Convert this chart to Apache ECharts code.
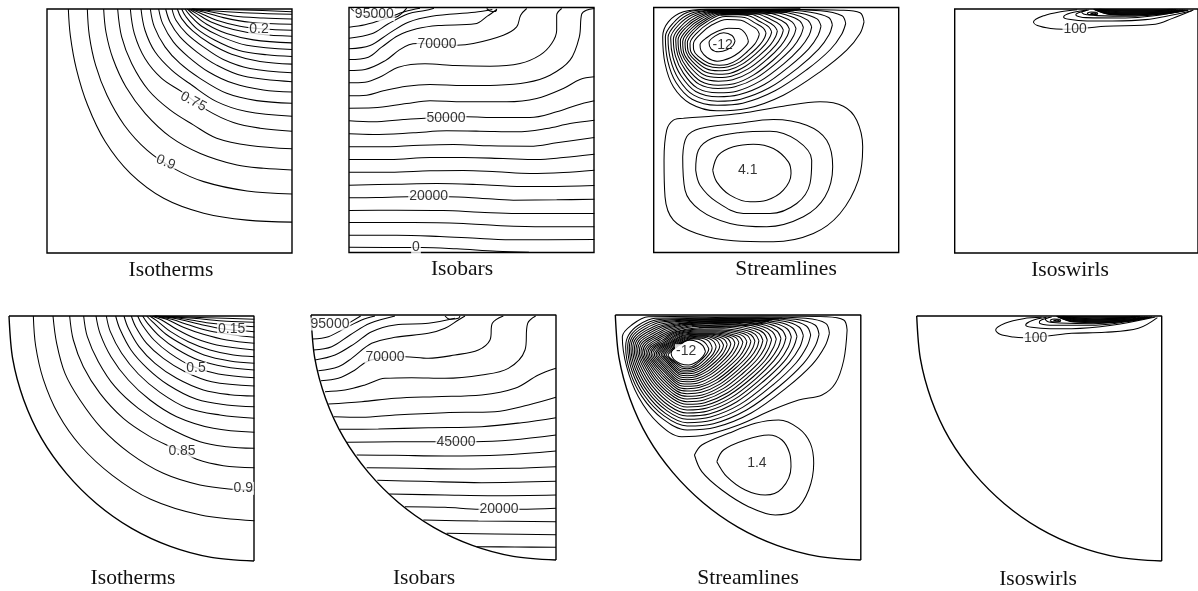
<!DOCTYPE html>
<html><head><meta charset="utf-8">
<script src="https://cdn.jsdelivr.net/npm/echarts@6/dist/echarts.min.js"></script>
<style>html,body{margin:0;padding:0;background:#fff}#c{width:1198px;height:591px}</style>
</head><body><div id="c"></div>
<script>
const isothermsSquare = [
[[64,0],[70,80],[88,180],[122,290],[175,400],[250,495],[350,570],[470,615],[600,636],[735,642]],
[[121,0],[127,80],[146,170],[180,260],[232,350],[300,425],[380,480],[470,520],[600,548],[735,557]],
[[170,0],[177,70],[198,150],[237,235],[295,315],[370,385],[460,435],[570,470],[650,480],[735,485]],
[[212,0],[224,84],[254,164],[304,244],[369,304],[439,349],[509,389],[609,411],[735,421]],
[[250,0],[262,74],[294,149],[344,209],[404,249],[479,304],[559,342],[639,359],[735,368]],
[[282,0],[294,64],[324,129],[374,184],[434,229],[509,279],[599,309],[735,323]],
[[310,0],[322,54],[354,114],[399,164],[459,209],[539,254],[629,276],[735,284]],
[[335,0],[347,44],[379,99],[424,144],[484,189],[559,224],[649,244],[735,250]],
[[356,0],[369,39],[399,84],[449,129],[509,169],[589,202],[735,219]],
[[375,0],[387,34],[419,74],[469,114],[529,152],[609,179],[735,192]],
[[391,0],[404,29],[437,66],[489,104],[554,136],[639,158],[735,166]],
[[404,0],[416,22],[449,59],[504,94],[574,124],[659,138],[735,143]],
[[414,0],[429,19],[464,52],[524,84],[599,109],[735,122]],
[[421,0],[439,16],[479,46],[539,74],[619,93],[735,102]],
[[426,0],[449,14],[494,40],[559,62],[639,76],[735,82]],
[[430,0],[459,12],[509,34],[579,52],[649,60],[735,64]],
[[433,0],[469,9],[529,26],[609,40],[735,46]],
[[435,0],[489,8],[559,21],[649,27],[735,30]],
[[436,0],[509,6],[609,12],[735,16]],
[[437,0],[590,3],[735,8]]
];
const isobarsSquare = [
[[6,3],[30,20],[90,28],[138,29],[160,16],[173,2]],
[[0,59],[48,52],[108,34],[168,12],[213,2]],
[[0,92],[68,79],[118,49],[178,19],[228,9],[255,2]],
[[0,124],[63,114],[118,79],[178,44],[248,26],[378,14],[430,6]],
[[0,156],[58,149],[98,119],[148,84],[203,64],[268,54],[378,49],[415,26],[443,6]],
[[0,189],[48,186],[108,160],[150,128],[180,112],[205,108],[265,110],[323,113],[373,108],[463,83],[503,58],[515,23],[533,3]],
[[0,226],[48,224],[98,206],[148,179],[228,169],[318,174],[423,176],[513,168],[573,143],[608,108],[623,68],[623,23],[638,3]],
[[0,265],[53,263],[103,250],[173,236],[243,231],[343,234],[443,233],[533,225],[603,203],[663,158],[691,88],[698,20],[712,8],[736,3]],
[[0,302],[73,301],[173,288],[243,280],[343,283],[473,283],[563,273],[643,243],[693,216],[736,208]],
[[0,340],[73,343],[163,336],[228,332],[353,328],[443,330],[543,330],[623,313],[683,293],[736,280]],
[[0,379],[73,381],[193,376],[293,370],[393,371],[503,373],[593,363],[663,348],[736,338]],
[[0,418],[93,418],[213,413],[313,411],[423,415],[543,416],[623,406],[736,390]],
[[0,456],[123,456],[243,450],[343,450],[463,453],[563,456],[643,450],[736,440]],
[[0,494],[123,494],[243,490],[343,489],[443,493],[543,498],[643,495],[736,488]],
[[0,533],[143,530],[263,528],[383,531],[483,536],[593,537],[736,534]],
[[0,571],[83,570],[178,568],[298,568],[393,572],[493,578],[623,577],[736,575]],
[[0,609],[143,608],[283,609],[393,614],[503,618],[736,618]],
[[0,645],[193,645],[343,648],[443,654],[583,658],[736,658]],
[[0,683],[143,683],[273,687],[393,693],[503,697],[736,696]],
[[0,719],[183,720],[218,720],[323,724],[443,731],[540,734]],
[[413,3],[425,11],[440,12],[443,4]]
];
const streamSquareBand = [
[[150,8],[250,6],[350,5],[440,4]],
[[160,11],[260,9],[360,7],[440,6]],
[[170,14],[270,11],[370,9],[430,8]],
[[180,17],[280,14],[370,11],[420,10]],
[[190,20],[290,17],[360,14],[410,12]],
[[200,23],[290,20],[350,18],[400,15]]
];
const streamSquareNeg = [
[[631,43],[619,16],[559,8],[359,5],[159,5],[89,13],[44,43],[27,88],[34,168],[59,238],[109,288],[189,310],[279,303],[389,263],[499,193],[579,128],[619,78]],
[[576,48],[565,25],[500,10],[359,6],[165,7],[100,15],[60,45],[35,88],[42,160],[67,225],[115,275],[190,293],[267,287],[364,250],[460,186],[530,126],[564,80]],
[[536,52],[525,30],[470,14],[359,7],[170,9],[110,18],[68,48],[43,90],[50,155],[75,215],[120,263],[192,281],[261,275],[347,241],[433,181],[495,125],[526,82]],
[[502,56],[490,34],[440,17],[350,8],[175,10],[118,21],[76,51],[51,92],[58,150],[82,205],[126,252],[193,268],[255,262],[332,231],[409,175],[465,124],[493,84]],
[[474,58],[462,38],[420,20],[340,9],[180,11],[125,24],[84,54],[59,94],[65,145],[89,197],[131,242],[193,256],[249,251],[319,221],[390,169],[440,121],[466,84]],
[[449,60],[438,40],[400,23],[330,10],[185,12],[132,27],[91,57],[66,96],[72,142],[95,188],[136,230],[193,243],[244,238],[308,211],[372,163],[418,119],[441,84]],
[[427,63],[416,44],[382,27],[320,12],[190,13],[138,30],[97,60],[73,98],[78,140],[100,181],[141,221],[194,233],[241,229],[299,203],[357,159],[399,117],[420,85]],
[[407,65],[397,48],[365,31],[310,14],[195,14],[144,33],[104,63],[80,100],[84,137],[105,173],[145,211],[194,221],[237,217],[290,194],[343,153],[381,115],[401,85]],
[[389,68],[379,52],[350,35],[300,17],[200,16],[150,36],[110,66],[87,102],[90,135],[110,167],[150,202],[194,210],[233,206],[282,185],[331,148],[366,113],[383,86]],
[[371,70],[361,55],[335,39],[290,20],[205,18],[155,39],[116,69],[94,104],[97,133],[115,161],[154,193],[195,200],[230,197],[274,177],[318,143],[350,112],[366,87]],
[[354,73],[345,58],[320,43],[282,24],[210,21],[160,42],[122,72],[101,106],[103,130],[120,155],[158,184],[195,190],[227,187],[267,169],[306,139],[335,110],[349,88]],
[[337,76],[329,62],[305,47],[273,30],[215,27],[167,46],[130,76],[109,108],[110,128],[125,150],[161,175],[196,181],[224,178],[259,163],[295,135],[320,110],[333,90]],
[[317,80],[310,66],[290,53],[262,38],[220,36],[175,52],[140,80],[119,110],[120,127],[133,146],[165,167],[197,173],[221,171],[251,157],[281,132],[303,110],[313,92]],
[[284,100],[275,78],[255,63],[225,62],[190,72],[160,90],[139,112],[142,130],[160,150],[190,161],[209,158],[232,150],[256,135],[273,119],[282,108]],
[[244,100],[235,84],[210,76],[185,85],[166,105],[172,124],[195,133],[220,127],[238,114]]
];
const streamSquarePos = [
[[89,332],[259,318],[389,296],[499,283],[569,296],[609,338],[627,418],[614,518],[559,618],[479,678],[359,703],[239,700],[129,678],[59,638],[34,568],[31,458],[39,368],[59,338]],
[[87,448],[99,388],[139,363],[249,348],[359,336],[459,353],[519,398],[537,478],[514,568],[449,628],[339,658],[229,648],[139,608],[94,548]],
[[126,488],[134,428],[174,393],[259,375],[349,371],[429,398],[474,458],[469,528],[429,588],[349,618],[269,618],[189,583],[139,533]],
[[177,488],[194,443],[239,418],[299,410],[359,423],[404,463],[412,498],[389,548],[339,578],[289,583],[229,563],[189,523]]
];
const swirlSquare = [
[[370,2],[320,8],[270,20],[238,39],[250,50],[290,59],[328,61],[396,57],[456,52],[606,46],[656,29],[721,3]],
[[400,3],[350,12],[329,24],[345,31],[400,36],[476,36],[576,32],[716,5]],
[[400,4],[368,14],[366,18],[396,26],[516,27],[706,4]],
[[405,3],[384,10],[392,16],[430,20],[530,22],[700,4]],
[[420,1],[470,17],[550,19],[640,14],[705,3]],
[[420,1],[470,15.5],[550,17.5],[640,13],[700,3]],
[[422,1],[470,14],[550,16],[640,12],[695,2]],
[[424,1],[470,12.5],[550,14.5],[640,11],[690,2]],
[[426,1],[470,11],[550,13],[640,10],[685,2]],
[[428,1],[470,9.5],[550,11.5],[640,9],[680,2]],
[[430,1],[470,8],[550,10],[640,8],[675,2]],
[[432,1],[470,6.5],[550,8.5],[640,7],[670,1]],
[[434,1],[470,5],[550,7],[640,5],[665,1]],
[[436,1],[470,4],[550,5.5],[640,4],[660,1]],
[[438,1],[470,3],[550,4],[640,3],[655,1]],
[[440,1],[470,2],[550,2.5],[640,2],[650,1]],
[[400,13],[412,9],[428,10],[432,14],[420,17],[405,17],[400,13]],
[[410,13],[420,11],[428,13],[420,15],[410,13]]
];
const isothermsSector = [
[[73,0],[80,90],[103,190],[148,295],[215,390],[310,478],[425,550],[575,597],[736,614]],
[[132,0],[143,82],[168,172],[213,252],[278,337],[363,412],[463,472],[573,507],[673,520],[736,522]],
[[182,0],[193,72],[223,152],[273,232],[343,307],[423,362],[478,389],[519,405],[563,430],[643,449],[736,455]],
[[224,0],[235,62],[268,137],[318,212],[388,277],[473,332],[573,377],[653,392],[736,397]],
[[261,0],[273,52],[306,122],[358,192],[423,252],[503,302],[613,337],[736,349]],
[[292,0],[304,47],[338,112],[388,174],[453,229],[533,275],[633,297],[736,307]],
[[320,0],[333,40],[366,102],[415,157],[478,207],[563,250],[653,267],[736,272]],
[[345,0],[358,37],[390,92],[438,142],[503,187],[583,222],[663,236],[736,240]],
[[367,0],[380,32],[413,82],[463,127],[528,167],[608,197],[736,210]],
[[386,0],[400,27],[435,72],[483,112],[548,150],[628,174],[736,185]],
[[401,0],[416,22],[453,62],[503,99],[568,132],[648,152],[736,162]],
[[413,0],[430,17],[470,54],[523,87],[585,117],[663,135],[736,142]],
[[422,0],[443,14],[485,47],[538,77],[603,102],[673,117],[736,122]],
[[428,0],[458,12],[503,40],[558,67],[623,87],[736,102]],
[[432,0],[473,10],[523,34],[583,55],[653,72],[736,82]],
[[434,0],[488,10],[543,28],[613,47],[736,64]],
[[436,0],[503,8],[573,25],[653,40],[736,47]],
[[438,0],[523,8],[593,20],[736,32]],
[[439,0],[553,7],[653,16],[736,19]],
[[440,0],[593,5],[736,10]]
];
const isobarsSector = [
[[112,25],[149,3]],
[[4,72],[52,65],[102,40],[152,15],[192,3]],
[[7,105],[62,95],[117,60],[177,25],[252,3]],
[[12,135],[72,120],[132,85],[182,50],[252,30],[352,25],[432,10]],
[[22,167],[82,155],[122,130],[182,85],[252,67],[352,55],[402,40],[442,15],[462,3]],
[[30,197],[82,190],[132,165],[167,140],[222,127],[282,125],[352,130],[432,120],[502,105],[537,75],[544,25],[577,3]],
[[42,230],[102,225],[162,210],[222,190],[302,188],[402,190],[512,180],[592,160],[642,105],[650,25],[674,3]],
[[52,267],[152,260],[252,250],[372,245],[512,240],[612,220],[682,180],[735,160]],
[[69,305],[152,307],[252,300],[402,293],[552,290],[652,270],[735,247]],
[[87,343],[202,342],[352,338],[512,335],[632,323],[735,308]],
[[107,382],[252,380],[377,380],[492,380],[602,375],[735,360]],
[[137,420],[252,421],[402,423],[572,420],[735,408]],
[[167,458],[302,460],[452,462],[602,460],[735,455]],
[[199,496],[332,499],[512,503],[735,499]],
[[235,537],[402,540],[552,542],[735,540]],
[[282,575],[402,577],[507,583],[627,583],[735,580]],
[[337,615],[502,618],[735,620]],
[[407,655],[552,657],[735,659]],
[[497,695],[612,696],[735,697]],
[[402,3],[417,13],[442,10],[447,3]]
];
const streamSectorNeg = [
[[694,45],[684,15],[629,5],[469,3],[99,5],[49,30],[21,65],[34,155],[69,245],[129,325],[199,365],[269,360],[369,330],[469,285],[549,255],[619,240],[659,205],[684,135]],
[[641,55],[630,25],[570,10],[440,6],[250,8],[120,10],[70,30],[40,60],[31,95],[44,170],[80,245],[140,310],[215,345],[300,337],[407,294],[513,218],[590,148],[628,93]],
[[610,58],[598,30],[540,13],[430,8],[250,10],[125,14],[76,34],[46,62],[37,97],[50,168],[86,240],[145,302],[215,333],[294,326],[393,285],[492,213],[563,146],[598,94]],
[[585,60],[572,33],[520,16],[425,10],[250,12],[130,18],[82,38],[51,65],[42,99],[55,165],[92,235],[150,295],[215,323],[289,316],[381,277],[474,208],[541,144],[574,94]],
[[563,62],[550,36],[505,19],[418,12],[250,14],[135,22],[88,42],[56,68],[47,101],[60,162],[97,230],[154,287],[215,313],[285,306],[372,269],[459,203],[521,142],[553,95]],
[[544,64],[531,39],[490,22],[410,14],[250,16],[140,26],[93,46],[61,71],[52,103],[65,159],[102,225],[158,280],[215,303],[281,297],[363,261],[445,198],[505,140],[534,95]],
[[527,66],[515,42],[476,25],[400,16],[250,18],[145,30],[98,50],[66,74],[57,105],[70,156],[107,220],[162,273],[215,294],[277,288],[355,254],[433,194],[490,139],[518,96]],
[[511,68],[499,45],[463,28],[390,18],[250,20],[150,33],[103,54],[71,77],[62,107],[75,153],[112,215],[166,266],[215,285],[274,279],[348,247],[422,190],[475,137],[502,96]],
[[496,70],[484,48],[450,31],[380,20],[250,22],[155,36],[108,58],[76,80],[67,109],[80,150],[117,210],[170,259],[215,276],[271,271],[341,240],[412,186],[462,136],[488,97]],
[[482,72],[470,50],[438,34],[370,22],[250,24],[160,39],[113,62],[81,83],[72,111],[85,148],[121,205],[173,252],[215,268],[268,263],[335,234],[402,182],[450,135],[474,97]],
[[468,74],[456,52],[426,37],[360,25],[250,27],[165,42],[118,65],[86,86],[77,112],[90,146],[125,200],[176,246],[215,260],[266,255],[329,227],[392,179],[438,134],[460,98]],
[[455,75],[444,54],[414,40],[350,29],[250,30],[170,45],[123,68],[91,89],[82,113],[94,144],[129,195],[179,240],[215,252],[263,247],[323,221],[383,174],[426,132],[448,98]],
[[442,76],[431,56],[402,43],[340,33],[250,34],[175,48],[128,71],[96,92],[87,114],[98,142],[133,190],[182,234],[215,244],[260,240],[317,214],[374,170],[415,130],[435,98]],
[[430,77],[419,58],[391,46],[332,37],[250,38],[180,50],[133,74],[101,94],[92,115],[102,140],[137,185],[184,228],[215,236],[258,232],[312,208],[366,166],[404,128],[424,98]],
[[418,78],[407,60],[380,49],[325,41],[250,42],[183,52],[138,77],[106,96],[97,116],[106,138],[140,180],[186,222],[215,228],[256,224],[306,202],[357,162],[394,126],[412,98]],
[[406,79],[396,62],[370,52],[318,45],[250,45],[186,54],[143,79],[111,98],[102,117],[110,136],[143,175],[188,216],[215,221],[253,217],[301,196],[349,159],[383,124],[400,97]],
[[394,80],[384,64],[360,55],[312,48],[250,48],[189,56],[148,81],[116,99],[107,118],[114,134],[146,170],[190,210],[215,214],[251,211],[296,190],[340,155],[373,123],[389,97]],
[[382,81],[372,66],[350,58],[306,51],[250,51],[192,58],[153,82],[121,100],[112,119],[118,132],[149,166],[191,204],[215,207],[248,204],[290,185],[332,152],[362,121],[377,97]],
[[370,82],[361,68],[340,60],[300,54],[250,54],[195,60],[158,83],[127,101],[117,120],[123,131],[152,162],[192,198],[215,200],[246,197],[285,179],[324,148],[351,120],[365,97]],
[[358,84],[350,70],[330,62],[295,56],[250,56],[198,62],[162,84],[132,102],[122,120],[128,130],[155,158],[193,192],[215,194],[244,191],[279,175],[315,146],[341,119],[354,98]],
[[346,86],[338,72],[320,64],[290,58],[250,58],[200,64],[166,85],[137,103],[127,120],[133,129],[158,154],[194,186],[215,188],[241,185],[274,170],[307,143],[330,119],[342,99]],
[[335,88],[327,74],[311,66],[284,60],[250,60],[203,66],[170,86],[142,104],[132,120],[138,128],[161,150],[195,180],[215,182],[239,180],[269,165],[299,141],[321,118],[331,100]],
[[324,90],[316,76],[302,68],[278,62],[250,62],[205,68],[174,87],[147,105],[137,120],[143,127],[164,147],[196,175],[215,176],[237,174],[264,161],[291,138],[311,117],[321,101]],
[[313,92],[306,78],[293,70],[272,64],[250,64],[208,70],[178,88],[152,106],[142,120],[148,127],[167,144],[197,170],[215,171],[235,169],[259,157],[284,136],[301,117],[310,103]],
[[302,95],[296,81],[284,72],[265,67],[245,67],[210,72],[182,89],[157,107],[147,120],[153,127],[170,141],[198,165],[215,166],[232,164],[254,154],[276,135],[292,118],[299,105]],
[[290,98],[284,84],[275,75],[258,70],[240,70],[213,74],[186,90],[162,108],[152,120],[158,127],[174,140],[200,160],[215,161],[230,159],[249,150],[268,133],[281,118],[288,107]],
[[280,101],[272,87],[262,78],[248,73],[235,72],[215,76],[190,92],[167,109],[158,120],[163,128],[178,140],[202,155],[215,156],[228,155],[244,146],[260,132],[272,119],[278,109]],
[[270,110],[262,92],[245,80],[222,76],[195,85],[175,100],[167,115],[175,133],[195,146],[220,150],[245,140],[262,125]]
];
const streamSectorBand = [
[[180,20],[280,13],[420,12],[500,9]],
[[190,26],[290,19],[420,17],[490,12]],
[[200,30],[300,24],[410,21],[470,15]],
[[230,34],[320,29],[410,26],[460,19]],
[[250,38],[330,34],[410,30],[450,23]]
];
const streamSectorPos = [
[[237,420],[259,390],[339,355],[419,325],[489,315],[549,340],[584,385],[594,445],[579,525],[539,585],[479,600],[399,575],[319,525],[259,470]],
[[304,440],[324,405],[389,375],[459,360],[499,375],[522,415],[526,455],[499,520],[449,540],[389,525],[334,485]]
];
const swirlSector = [
[[375,4],[320,8],[265,22],[237,42],[250,55],[290,63],[322,65],[392,60],[465,52],[565,49],[665,37],[722,5]],
[[390,4],[345,14],[327,27],[345,34],[400,38],[465,38],[585,28],[716,3]],
[[400,4],[370,14],[368,20],[400,28],[520,28],[706,3]],
[[405,3],[386,10],[394,17],[430,21],[530,23],[700,4]],
[[420,1],[470,18],[550,20],[640,15],[705,3]],
[[420,1],[470,16.5],[550,18.5],[640,14],[700,3]],
[[422,1],[470,15],[550,17],[640,13],[695,2]],
[[424,1],[470,13.5],[550,15.5],[640,12],[690,2]],
[[426,1],[470,12],[550,14],[640,11],[685,2]],
[[428,1],[470,10.5],[550,12.5],[640,10],[680,2]],
[[430,1],[470,9],[550,11],[640,8.5],[675,2]],
[[432,1],[470,7.5],[550,9.5],[640,7],[670,1]],
[[434,1],[470,6],[550,8],[640,5.5],[665,1]],
[[436,1],[470,4.5],[550,6],[640,4],[660,1]],
[[438,1],[470,3],[550,4],[640,3],[655,1]],
[[440,1],[470,2],[550,2.5],[640,2],[650,1]],
[[400,13],[412,9],[428,10],[432,14],[420,17],[405,17],[400,13]],
[[410,13],[420,11],[428,13],[420,15],[410,13]]
];
const sectorOutline = [[0,0],[11,128],[44,251],[98,368],[172,472],[263,563],[368,637],[484,691],[607,724],[735,735]];
const sectorEdges = [[0,0],[735,0],[735,735]];

const labels1 = [[636,61,'0.2',0],[439,279,'0.75',-28],[356,462,'0.9',-22]];
const labels2 = [[76,21,'95000',0],[264,111,'70000',0],[291,333,'50000',0],[239,566,'20000',0],[201,720,'0',0]];
const labels3 = [[207,112,'-12',0,true],[282,488,'4.1',0]];
const labels4 = [[364,61,'100',0]];
const labels5 = [[668,40,'0.15',0],[561,157,'0.5',0],[519,405,'0.85',0],[703,517,'0.9',0]];
const labels6 = [[57,27,'95000',0],[222,127,'70000',0],[435,382,'45000',0],[564,583,'20000',0]];
const labels7 = [[212,107,'-12',0],[424,445,'1.4',0]];
const labels8 = [[357,65,'100',0]];

const closed = l => l.map(p => [...p, p[0]]);
const panels = [
 {box:[47,9,245,244],title:'Isotherms',tx:171,ty:270,open:isothermsSquare,loops:[],labels:labels1},
 {box:[349,7.5,245,245],title:'Isobars',tx:462,ty:269,open:isobarsSquare,loops:[],labels:labels2},
 {box:[653.7,7.5,245,245],title:'Streamlines',tx:786,ty:269,open:streamSquareBand,loops:[...streamSquareNeg,...streamSquarePos],labels:labels3},
 {box:[954.7,9,245,244],title:'Isoswirls',tx:1070,ty:270,open:swirlSquare,loops:[],labels:labels4},
 {box:[9,316,245,245],title:'Isotherms',tx:133,ty:578,open:isothermsSector,loops:[],labels:labels5,sector:true},
 {box:[311,315,245,245],title:'Isobars',tx:424,ty:578,open:isobarsSector,loops:[],labels:labels6,sector:true},
 {box:[615.3,315,245.5,245],title:'Streamlines',tx:748,ty:578,open:streamSectorBand,loops:[...streamSectorNeg,...streamSectorPos],labels:labels7,sector:true},
 {box:[916.7,316,245,245],title:'Isoswirls',tx:1038,ty:579,open:swirlSector,loops:[],labels:labels8,sector:true}
];
const ink = '#000';
const grid=[],xAxis=[],yAxis=[],series=[],title=[];
panels.forEach((p,i)=>{
  grid.push({left:p.box[0],top:p.box[1],width:p.box[2],height:p.box[3],show:!p.sector,borderColor:'#000',borderWidth:1.4,backgroundColor:'transparent',containLabel:false});
  xAxis.push({type:'value',gridIndex:i,min:0,max:735,show:false});
  yAxis.push({type:'value',gridIndex:i,min:0,max:735,inverse:true,show:false});
  title.push({text:p.title,left:p.tx,top:p.ty,padding:0,textAlign:'center',textVerticalAlign:'middle',textStyle:{fontFamily:'Liberation Serif',fontSize:21.5,fontWeight:'normal',color:'#111'}});
  const line=(data,w,smooth,clip)=>({type:'line',xAxisIndex:i,yAxisIndex:i,data,symbol:'none',smooth,clip,silent:true,animation:false,lineStyle:{color:ink,width:w}});
  p.open.forEach(d=>series.push(line(d,1.05,0.35,true)));
  closed(p.loops).forEach(d=>series.push(line(d,1.05,0.35,true)));
  if(p.sector){
    series.push(line(sectorEdges,1.4,false,false));
    series.push(line(sectorOutline,1.4,0.3,false));
  }
  series.push({type:'scatter',xAxisIndex:i,yAxisIndex:i,symbolSize:0,silent:true,animation:false,z:10,clip:false,
    data:p.labels.map(l=>({value:[l[0],l[1]],name:l[2],label:{rotate:l[3],backgroundColor:l[4]?'transparent':'#fff'}})),
    label:{show:true,position:'inside',formatter:o=>o.name,fontFamily:'Liberation Sans',fontSize:14,lineHeight:13,color:'#000',padding:[0,1]}});
});
const chart=echarts.init(document.getElementById('c'),null,{renderer:'canvas'});
chart.setOption({animation:false,backgroundColor:'#fff',tooltip:{show:false},legend:{show:false},title,grid,xAxis,yAxis,series});
</script></body></html>
